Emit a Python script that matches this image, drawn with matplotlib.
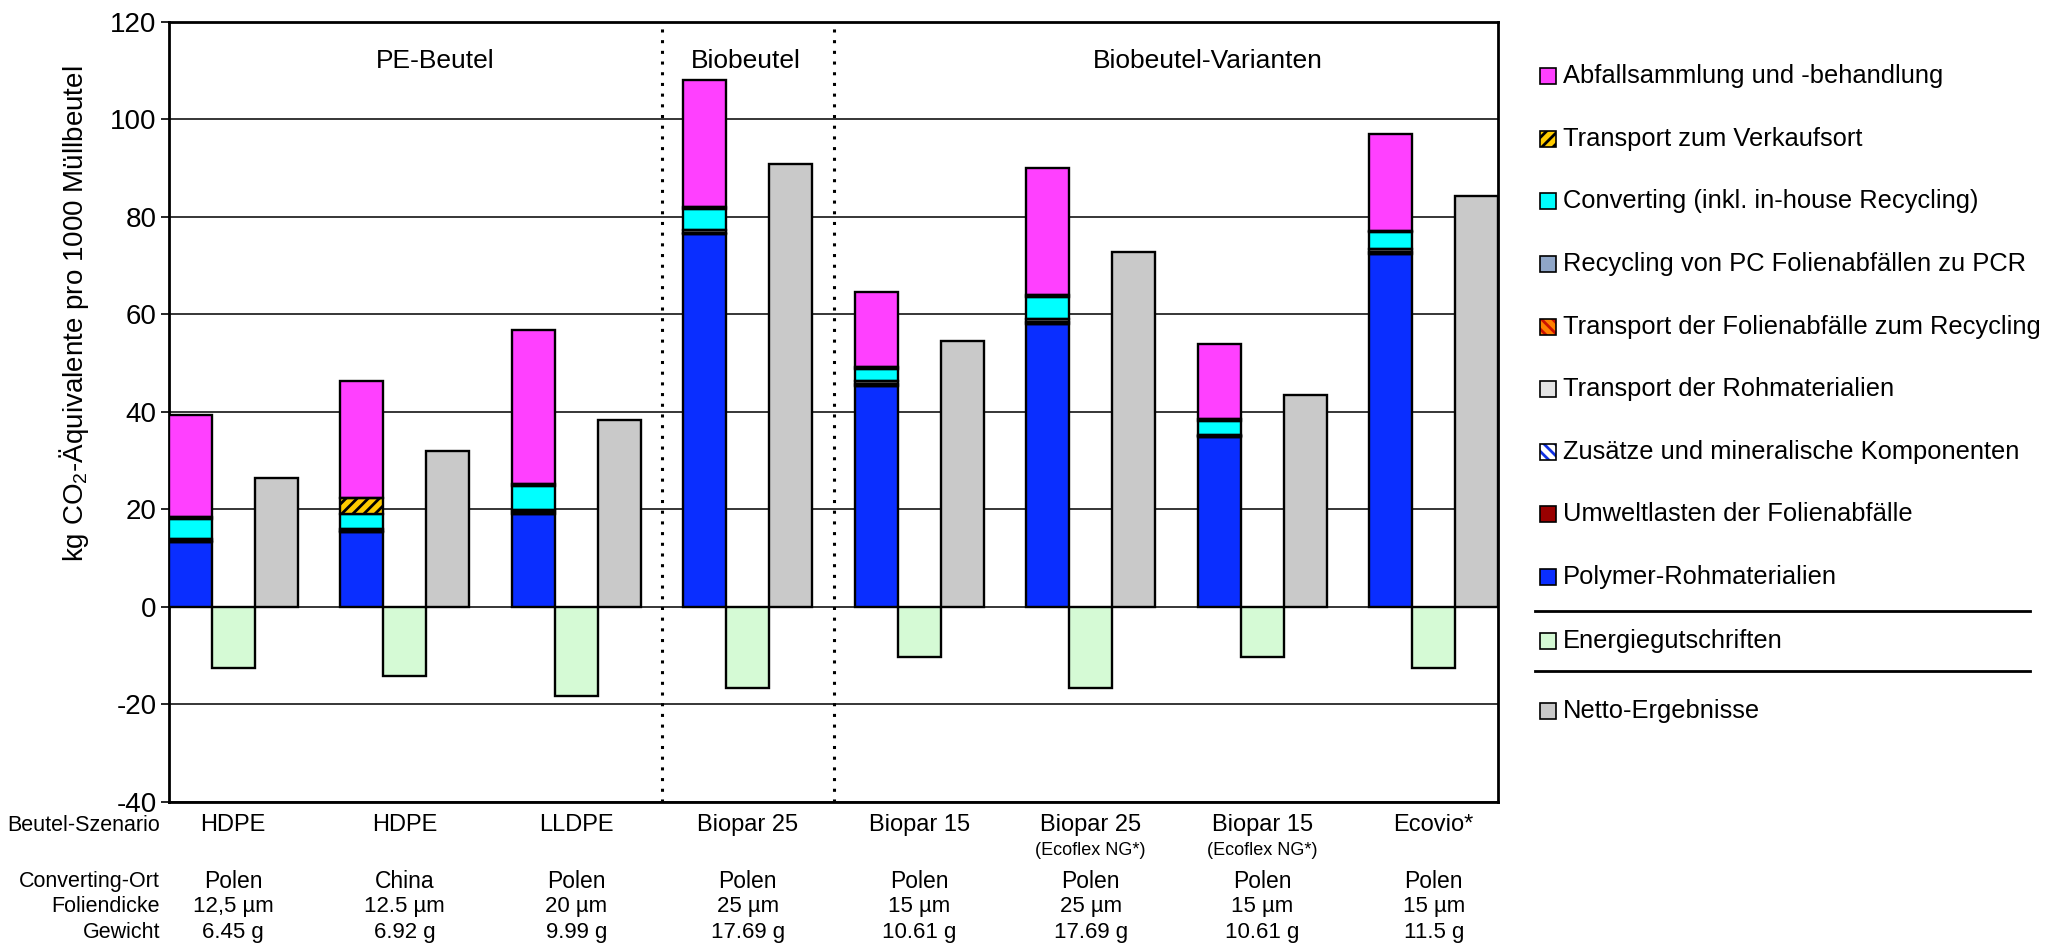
import matplotlib
matplotlib.use("Agg")
import matplotlib.pyplot as plt
from matplotlib.patches import Rectangle
from matplotlib.lines import Line2D
import numpy as np

plt.rcParams['font.family'] = ['Liberation Sans', 'DejaVu Sans']
plt.rcParams['mathtext.fontset'] = 'custom'
plt.rcParams['mathtext.rm'] = 'Liberation Sans'
plt.rcParams['mathtext.it'] = 'Liberation Sans:italic'
plt.rcParams['axes.unicode_minus'] = False
plt.rcParams['hatch.linewidth'] = 2.0

# Szenarien / Tabelle unter dem Diagramm
scenarios = ['HDPE', 'HDPE', 'LLDPE', 'Biopar 25', 'Biopar 15', 'Biopar 25', 'Biopar 15', 'Ecovio*']
scenario_sub = ['', '', '', '', '', '(Ecoflex NG*)', '(Ecoflex NG*)', '']
orte = ['Polen', 'China', 'Polen', 'Polen', 'Polen', 'Polen', 'Polen', 'Polen']
dicke = ['12,5 µm', '12.5 µm', '20 µm', '25 µm', '15 µm', '25 µm', '15 µm', '15 µm']
gewicht = ['6.45 g', '6.92 g', '9.99 g', '17.69 g', '10.61 g', '17.69 g', '10.61 g', '11.5 g']

# Beiträge (von unten nach oben gestapelt)
polymer = [13.2, 15.3, 19.1, 76.4, 45.3, 58.0, 34.8, 72.4]
umwelt = [0.0, 0.0, 0.0, 0.0, 0.0, 0.0, 0.0, 0.0]
zusaetze = [0.3, 0.3, 0.3, 0.3, 0.4, 0.4, 0.2, 0.3]
transport_roh = [0.4, 0.4, 0.4, 0.5, 0.6, 0.7, 0.3, 0.6]
transport_folien = [0.0, 0.0, 0.0, 0.0, 0.0, 0.0, 0.0, 0.0]
recycling_pc = [0.0, 0.0, 0.0, 0.0, 0.0, 0.0, 0.0, 0.0]
converting = [4.1, 3.1, 5.0, 4.4, 2.5, 4.4, 2.8, 3.5]
transport_verkauf = [0.3, 3.1, 0.4, 0.4, 0.3, 0.4, 0.4, 0.3]
abfall = [21.0, 24.1, 31.6, 26.0, 15.4, 26.0, 15.4, 19.8]

energie = [-12.5, -14.2, -18.3, -16.7, -10.4, -16.7, -10.4, -12.5]
netto = [26.5, 31.9, 38.2, 90.9, 54.6, 72.8, 43.5, 84.2]

# (label, werte, farbe, hatch, hatchfarbe)
stack = [
    ('Polymer-Rohmaterialien', polymer, '#0a2eff', None, None),
    ('Umweltlasten der Folienabfälle', umwelt, '#990000', None, None),
    ('Zusätze und mineralische Komponenten', zusaetze, 'white', '\\\\\\', '#1030e0'),
    ('Transport der Rohmaterialien', transport_roh, '#e4e4e4', None, None),
    ('Transport der Folienabfälle zum Recycling', transport_folien, '#ff8000', '\\\\\\', '#cc1100'),
    ('Recycling von PC Folienabfällen zu PCR', recycling_pc, '#8fa6c8', None, None),
    ('Converting (inkl. in-house Recycling)', converting, '#00ffff', None, None),
    ('Transport zum Verkaufsort', transport_verkauf, '#ffcc00', '///', 'black'),
    ('Abfallsammlung und -behandlung', abfall, '#ff40ff', None, None),
]
color_energie = '#d5fad5'
color_netto = '#c9c9c9'

fig = plt.figure(figsize=(20.6, 9.52), dpi=100)
ax = fig.add_axes([169 / 2060, 1 - 801.7 / 952, 1329 / 2060, 780 / 952])

x = np.arange(len(scenarios))
w = 0.25
bottom = np.zeros(len(x))
for label, vals, col, hatch, hcol in stack:
    vals = np.array(vals)
    if hatch:
        ax.bar(x - w, vals, w, bottom=bottom, color=col, edgecolor=hcol, hatch=hatch, linewidth=0, zorder=3)
        ax.bar(x - w, vals, w, bottom=bottom, color='none', edgecolor='black', linewidth=1.7, zorder=4)
    else:
        ax.bar(x - w, vals, w, bottom=bottom, color=col, edgecolor='black', linewidth=1.7, zorder=3)
    bottom += vals

ax.bar(x, energie, w, color=color_energie, edgecolor='black', linewidth=1.7, zorder=3)
ax.bar(x + w, netto, w, color=color_netto, edgecolor='black', linewidth=1.7, zorder=3)

ax.set_xlim(-0.375, len(x) - 1 + 0.375)
ax.set_ylim(-40, 120)
ax.set_yticks(np.arange(-40, 121, 20))
ax.tick_params(axis='y', labelsize=20, length=6, width=1.2, pad=3)
ax.set_xticks([])
ax.yaxis.grid(True, color='black', linewidth=1.1)
ax.set_axisbelow(True)
for s in ax.spines.values():
    s.set_linewidth(2)

# Trennlinien zwischen den Gruppen
for xv in [2.5, 3.5]:
    ax.axvline(xv, color='black', linestyle=(0, (1, 2.5)), linewidth=2.2, zorder=2)

# Gruppentitel
ax.text(1.18, 112.0, 'PE-Beutel', ha='center', va='center', fontsize=19)
ax.text(2.99, 112.0, 'Biobeutel', ha='center', va='center', fontsize=19)
ax.text(5.68, 112.0, 'Biobeutel-Varianten', ha='center', va='center', fontsize=19)

ax.set_ylabel('kg CO$_2$-Äquivalente pro 1000 Müllbeutel', fontsize=20)
ax.yaxis.set_label_coords(-0.059, 0.625)

# Tabelle unter dem Diagramm
tr = ax.get_xaxis_transform()
rows_y = [-0.030, -0.102, -0.134, -0.168]
row_labels = ['Beutel-Szenario', 'Converting-Ort', 'Foliendicke', 'Gewicht']
for lab, yy in zip(row_labels, rows_y):
    fig.text(160 / 2060, 1 - (801.7 - yy * 780) / 952, lab, ha='right', va='center', fontsize=15.5)
for i in range(len(x)):
    ax.text(x[i], rows_y[0], scenarios[i], transform=tr, ha='center', va='center', fontsize=17, clip_on=False)
    if scenario_sub[i]:
        ax.text(x[i], -0.062, scenario_sub[i], transform=tr, ha='center', va='center', fontsize=13, clip_on=False)
    ax.text(x[i], rows_y[1], orte[i], transform=tr, ha='center', va='center', fontsize=16.5, clip_on=False)
    ax.text(x[i], rows_y[2], dicke[i], transform=tr, ha='center', va='center', fontsize=16, clip_on=False)
    ax.text(x[i], rows_y[3], gewicht[i], transform=tr, ha='center', va='center', fontsize=16, clip_on=False)

# Legende (manuell, mit Trennlinien)
legend_items = list(reversed(stack))
y0 = 76.2
dy = 62.6
msize = 16


def legend_marker(ypix, col, hatch=None, hcol=None):
    xf = 1540 / 2060
    yf = 1 - (ypix + msize / 2) / 952
    wf = msize / 2060
    hf = msize / 952
    if hatch:
        fig.add_artist(Rectangle((xf, yf), wf, hf, transform=fig.transFigure, facecolor=col,
                                 edgecolor=hcol, hatch=hatch, linewidth=0))
        fig.add_artist(Rectangle((xf, yf), wf, hf, transform=fig.transFigure, facecolor='none',
                                 edgecolor='black', linewidth=1.2))
    else:
        fig.add_artist(Rectangle((xf, yf), wf, hf, transform=fig.transFigure, facecolor=col,
                                 edgecolor='black', linewidth=1.2))


for i, (label, vals, col, hatch, hcol) in enumerate(legend_items):
    yp = y0 + i * dy
    legend_marker(yp, col, hatch, hcol)
    fig.text(1563 / 2060, 1 - yp / 952, label, ha='left', va='center', fontsize=18.4)

for yp in [611, 671]:
    fig.add_artist(Line2D([1535 / 2060, 2030 / 2060], [1 - yp / 952, 1 - yp / 952],
                          transform=fig.transFigure, color='black', linewidth=2))

legend_marker(641, color_energie)
fig.text(1563 / 2060, 1 - 641 / 952, 'Energiegutschriften', ha='left', va='center', fontsize=18.4)
legend_marker(711, color_netto)
fig.text(1563 / 2060, 1 - 711 / 952, 'Netto-Ergebnisse', ha='left', va='center', fontsize=18.4)

fig.savefig('out.png', dpi=100, facecolor='white')
